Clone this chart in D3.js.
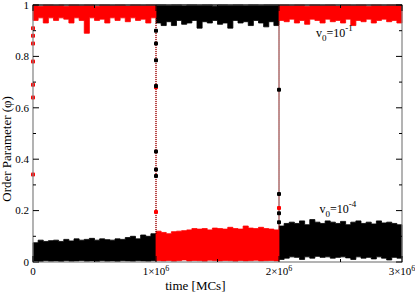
<!DOCTYPE html>
<html>
<head>
<meta charset="utf-8">
<script src="https://cdn.jsdelivr.net/npm/d3@7"></script>
<style>
  body { margin: 0; background: #fff; }
  text { font-family: "Liberation Serif", "Times New Roman", serif; fill: #000; }
</style>
</head>
<body>
<div id="chart"></div>
<script>
// Chart size and margins
var svgWidth = 415;
var svgHeight = 293;

var margin = { top: 5, right: 13, bottom: 31, left: 33 };
var width = svgWidth - margin.left - margin.right;
var height = svgHeight - margin.top - margin.bottom;

// Noise band envelopes, 24 samples per 1e6 MCs
var tMax = 3e6;
var nSamples = 72;

var redHi = [1, 0.995, 1, 1, 0.998, 1, 0.995, 1, 1, 0.997, 1, 1, 0.995, 1, 1, 0.998, 1, 1, 0.996, 1, 1, 0.998, 1, 1,
    0.12, 0.115, 0.11, 0.118, 0.12, 0.122, 0.125, 0.13, 0.128, 0.13, 0.125, 0.132, 0.13, 0.128, 0.135, 0.13, 0.128, 0.14, 0.132, 0.13, 0.135, 0.13, 0.128, 0.125,
    1, 1, 0.997, 1, 1, 0.995, 1, 1, 0.998, 1, 1, 0.996, 1, 1, 0.998, 1, 1, 0.995, 1, 1, 0.997, 1, 1, 1];
var redLo = [0.94, 0.95, 0.93, 0.95, 0.94, 0.95, 0.945, 0.93, 0.95, 0.94, 0.89, 0.95, 0.94, 0.945, 0.93, 0.95, 0.94, 0.95, 0.935, 0.95, 0.94, 0.945, 0.93, 0.95,
    0.005, 0.004, 0.006, 0.003, 0.005, 0.008, 0.004, 0.006, 0.005, 0.003, 0.007, 0.005, 0.004, 0.006, 0.005, 0.003, 0.006, 0.004, 0.005, 0.007, 0.004, 0.005, 0.006, 0.004,
    0.94, 0.935, 0.945, 0.93, 0.94, 0.925, 0.945, 0.94, 0.93, 0.945, 0.935, 0.94, 0.93, 0.945, 0.92, 0.94, 0.935, 0.945, 0.93, 0.94, 0.945, 0.935, 0.94, 0.93];
var blackHi = [0.075, 0.085, 0.08, 0.083, 0.085, 0.08, 0.088, 0.082, 0.09, 0.085, 0.088, 0.092, 0.085, 0.09, 0.087, 0.085, 0.09, 0.088, 0.095, 0.1, 0.09, 0.105, 0.1, 0.11,
    1, 1, 0.998, 1, 1, 0.996, 1, 1, 0.998, 1, 1, 0.995, 1, 1, 0.998, 1, 1, 0.997, 1, 1, 0.998, 1, 1, 1,
    0.14, 0.15, 0.155, 0.15, 0.16, 0.145, 0.165, 0.155, 0.15, 0.16, 0.155, 0.15, 0.158, 0.145, 0.155, 0.16, 0.15, 0.155, 0.148, 0.16, 0.152, 0.155, 0.15, 0.145];
var blackLo = [0.004, 0.002, 0.005, 0.003, 0.004, 0.002, 0.005, 0.003, 0.004, 0.006, 0.003, 0.004, 0.002, 0.005, 0.003, 0.004, 0.002, 0.005, 0.004, 0.003, 0.005, 0.004, 0.003, 0.005,
    0.93, 0.92, 0.935, 0.92, 0.94, 0.925, 0.93, 0.94, 0.91, 0.935, 0.93, 0.94, 0.925, 0.93, 0.91, 0.94, 0.93, 0.935, 0.92, 0.94, 0.93, 0.915, 0.935, 0.92,
    0.01, 0.015, 0.02, 0.018, 0.01, 0.02, 0.015, 0.022, 0.018, 0.02, 0.015, 0.018, 0.02, 0.016, 0.01, 0.02, 0.015, 0.018, 0.012, 0.02, 0.015, 0.008, 0.018, 0.015];

// Transient points at the switching times
var jumpTimes = [0, 1e6, 2e6];
var redJumps = [[0.34, 0.64, 0.69, 0.78, 0.85, 0.88, 0.91], [0.68, 0.195], [0.21]];
var blackJumps = [[], [0.9, 0.85, 0.785, 0.685, 0.43, 0.36, 0.335], [0.67, 0.265, 0.19, 0.155]];

// Axis ticks
var xTicks = [0, 1e6, 2e6, 3e6];
var xTickLabels = ["0", "1", "2", "3"];
var xMinorTicks = [5e5, 1.5e6, 2.5e6];
var yTicks = [0, 0.2, 0.4, 0.6, 0.8, 1];
var yTickLabels = ["0", "0.2", "0.4", "0.6", "0.8", "1"];
var yMinorTicks = [0.1, 0.3, 0.5, 0.7, 0.9];

var svg = d3.select("#chart")
    .append("svg")
    .attr("width", svgWidth)
    .attr("height", svgHeight);

var chartGroup = svg.append("g")
    .attr("transform", `translate(${margin.left}, ${margin.top})`);

var xScale = d3.scaleLinear().domain([0, tMax]).range([0, width]);
var yScale = d3.scaleLinear().domain([0, 1]).range([height, 0]);

var step = tMax / nSamples;

// Noise bands as one stepped area per series and segment
function drawBand(hi, lo, color) {
    [0, 24, 48].forEach(function(start) {
        var idx = d3.range(start, start + 25);
        var area = d3.area()
            .curve(d3.curveStepAfter)
            .x(i => xScale(i * step))
            .y0(i => yScale(lo[Math.min(i, start + 23)]))
            .y1(i => yScale(hi[Math.min(i, start + 23)]));
        chartGroup.append("path")
            .datum(idx)
            .attr("d", area)
            .attr("fill", color)
            .attr("stroke", color)
            .attr("stroke-width", 0.8);
    });
}
drawBand(blackHi, blackLo, "#000");
drawBand(redHi, redLo, "#ff0000");

// Dotted vertical connectors at the switches
function drawJumpLine(t, hi, lo, color, offset) {
    chartGroup.append("line")
        .attr("x1", xScale(t)).attr("x2", xScale(t))
        .attr("y1", yScale(hi)).attr("y2", yScale(lo))
        .attr("stroke", color)
        .attr("stroke-width", 1)
        .attr("stroke-dasharray", "1,1")
        .attr("stroke-dashoffset", offset);
}
drawJumpLine(1e6, blackLo[24], blackHi[23], "#000", 0);
drawJumpLine(1e6, redLo[23], redHi[24], "#ff0000", 1);
drawJumpLine(2e6, redLo[48], redHi[47], "#ff0000", 0);
drawJumpLine(2e6, blackLo[47], blackHi[48], "#000", 1);

// Transient markers
function drawJumps(jumps, color) {
    jumps.forEach(function(vals, k) {
        chartGroup.append("g")
            .selectAll("rect")
            .data(vals)
            .enter()
            .append("rect")
            .attr("x", xScale(jumpTimes[k]) - 2)
            .attr("y", d => yScale(d) - 2)
            .attr("width", 4)
            .attr("height", 4)
            .attr("rx", 1)
            .attr("fill", color);
    });
}
drawJumps(redJumps, "#ff0000");
drawJumps(blackJumps, "#000");

// Frame
chartGroup.append("rect")
    .attr("width", width)
    .attr("height", height)
    .attr("fill", "none")
    .attr("stroke", "#808080")
    .attr("stroke-width", 1.2);
chartGroup.append("line")
    .attr("x1", 0).attr("x2", width)
    .attr("y1", 0).attr("y2", 0)
    .attr("stroke", "#000");

// Inward ticks on all four sides
var tickG = chartGroup.append("g").attr("stroke", "#000").attr("stroke-width", 1);
yTicks.forEach(function(v) {
    tickG.append("line").attr("x1", 0).attr("x2", 6).attr("y1", yScale(v)).attr("y2", yScale(v));
    tickG.append("line").attr("x1", width).attr("x2", width - 6).attr("y1", yScale(v)).attr("y2", yScale(v));
});
yMinorTicks.forEach(function(v) {
    tickG.append("line").attr("x1", 0).attr("x2", 3).attr("y1", yScale(v)).attr("y2", yScale(v));
    tickG.append("line").attr("x1", width).attr("x2", width - 3).attr("y1", yScale(v)).attr("y2", yScale(v));
});
xTicks.forEach(function(v) {
    tickG.append("line").attr("x1", xScale(v)).attr("x2", xScale(v)).attr("y1", 0).attr("y2", 6);
    tickG.append("line").attr("x1", xScale(v)).attr("x2", xScale(v)).attr("y1", height).attr("y2", height - 6);
});
xMinorTicks.forEach(function(v) {
    tickG.append("line").attr("x1", xScale(v)).attr("x2", xScale(v)).attr("y1", 0).attr("y2", 3);
    tickG.append("line").attr("x1", xScale(v)).attr("x2", xScale(v)).attr("y1", height).attr("y2", height - 3);
});

// Y tick labels
chartGroup.append("g")
    .selectAll("text")
    .data(yTicks)
    .enter()
    .append("text")
    .attr("x", -4)
    .attr("y", d => yScale(d))
    .attr("dy", "0.35em")
    .attr("text-anchor", "end")
    .attr("font-size", "11px")
    .text((d, i) => yTickLabels[i]);

// X tick labels (with 10^6 superscript)
xTicks.forEach(function(v, i) {
    var t = chartGroup.append("text")
        .attr("x", xScale(v))
        .attr("y", height + 13)
        .attr("text-anchor", "middle")
        .attr("font-size", "11px");
    if (v === 0) {
        t.text(xTickLabels[i]);
    } else {
        t.append("tspan").text(xTickLabels[i] + "\u00d710");
        t.append("tspan").attr("dy", "-4").attr("font-size", "8px").text("6");
    }
});

// Axis titles
chartGroup.append("text")
    .attr("x", xScale(1.32e6))
    .attr("y", height + 28)
    .attr("text-anchor", "middle")
    .attr("font-size", "13px")
    .text("time [MCs]");

chartGroup.append("text")
    .attr("transform", `translate(${-margin.left + 11}, ${yScale(0.44)}) rotate(-90)`)
    .attr("text-anchor", "middle")
    .attr("font-size", "13px")
    .text("Order Parameter (\u03c6)");

// Series annotations
function annotate(x, y, exp) {
    var t = chartGroup.append("text")
        .attr("x", x)
        .attr("y", y)
        .attr("font-size", "12px");
    t.append("tspan").text("v");
    t.append("tspan").attr("dy", 4).attr("font-size", "9px").text("0");
    t.append("tspan").attr("dy", -4).text("=10");
    t.append("tspan").attr("dy", -6).attr("font-size", "9px").text(exp);
}
annotate(xScale(2.3e6), yScale(0.875), "-1");
annotate(xScale(2.33e6), yScale(0.19), "-4");
</script>
</body>
</html>
